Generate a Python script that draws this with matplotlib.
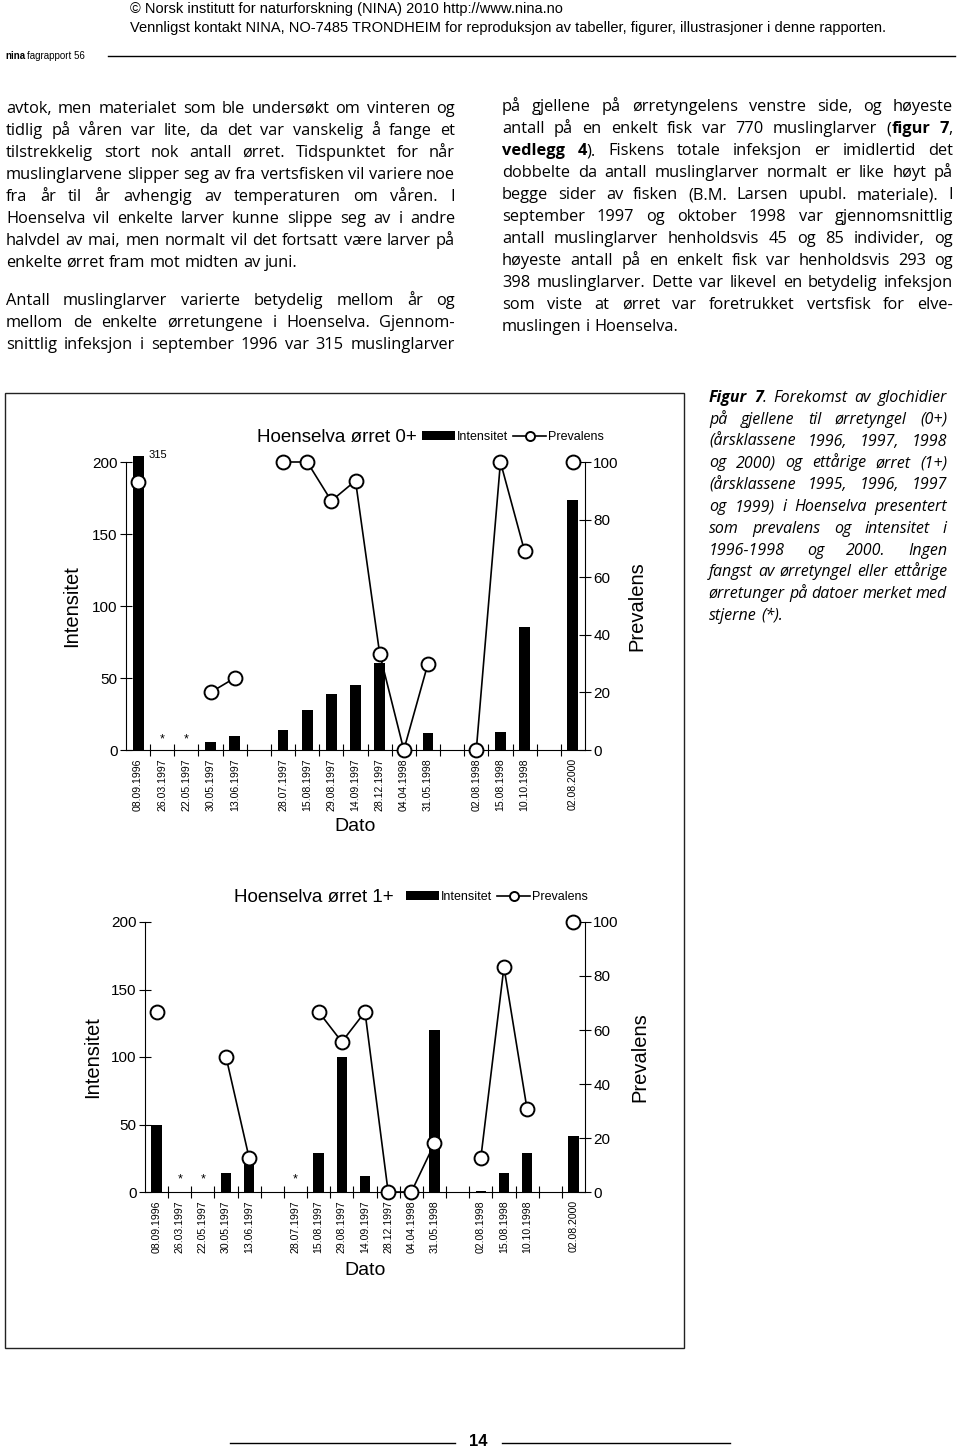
import numpy as np
import matplotlib
matplotlib.use('Agg')
import matplotlib.pyplot as plt
from matplotlib.patches import Rectangle

plt.rcParams['font.family'] = 'Liberation Sans'

# sampling dates (empty strings are the gaps between seasons)
dates = ['08.09.1996', '26.03.1997', '22.05.1997', '30.05.1997', '13.06.1997', '',
         '28.07.1997', '15.08.1997', '29.08.1997', '14.09.1997', '28.12.1997',
         '04.04.1998', '31.05.1998', '', '02.08.1998', '15.08.1998', '10.10.1998',
         '', '02.08.2000']

nan = np.nan
# orret 0+
intens_0 = np.array([315, nan, nan, 5.5, 10, nan, 14, 28, 39, 45, 60.5, 0, 12, nan,
                     0, 12.5, 85.5, nan, 173.5])
prev_0 = np.array([93, nan, nan, 20, 25, nan, 100, 100, 86.5, 93.5, 33.5, 0, 30, nan,
                   0, 100, 69, nan, 100])
no_catch_0 = ['26.03.1997', '22.05.1997']

# orret 1+
intens_1 = np.array([50, nan, nan, 14, 26, nan, nan, 29, 100, 11.5, 0, 0, 120, nan,
                     1, 14, 29, nan, 41.5])
prev_1 = np.array([66.7, nan, nan, 50, 12.5, nan, nan, 66.7, 55.6, 66.7, 0, 0, 18, nan,
                   12.5, 83.3, 30.6, nan, 100])
no_catch_1 = ['26.03.1997', '22.05.1997', '28.07.1997']

# page text, ^ toggles bold
left_col = [
    'avtok, men materialet som ble undersøkt om vinteren og',
    'tidlig på våren var lite, da det var vanskelig å fange et',
    'tilstrekkelig stort nok antall ørret. Tidspunktet for når',
    'muslinglarvene slipper seg av fra vertsfisken vil variere noe',
    'fra år til år avhengig av temperaturen om våren. I',
    'Hoenselva vil enkelte larver kunne slippe seg av i andre',
    'halvdel av mai, men normalt vil det fortsatt være larver på',
    'enkelte ørret fram mot midten av juni.',
    'Antall muslinglarver varierte betydelig mellom år og',
    'mellom de enkelte ørretungene i Hoenselva. Gjennom-',
    'snittlig infeksjon i september 1996 var 315 muslinglarver',
]
left_y = [108, 130, 152, 174, 196, 218, 240, 262, 300, 322, 344]
left_ragged = [7]

right_col = [
    'på gjellene på ørretyngelens venstre side, og høyeste',
    'antall på en enkelt fisk var 770 muslinglarver (^figur 7^,',
    '^vedlegg 4^). Fiskens totale infeksjon er imidlertid det',
    'dobbelte da antall muslinglarver normalt er like høyt på',
    'begge sider av fisken (B.M. Larsen upubl. materiale). I',
    'september 1997 og oktober 1998 var gjennomsnittlig',
    'antall muslinglarver henholdsvis 45 og 85 individer, og',
    'høyeste antall på en enkelt fisk var henholdsvis 293 og',
    '398 muslinglarver. Dette var likevel en betydelig infeksjon',
    'som viste at ørret var foretrukket vertsfisk for elve-',
    'muslingen i Hoenselva.',
]
right_ragged = [10]

caption = [
    '^Figur 7^. Forekomst av glochidier',
    'på gjellene til ørretyngel (0+)',
    '(årsklassene 1996, 1997, 1998',
    'og 2000) og ettårige ørret (1+)',
    '(årsklassene 1995, 1996, 1997',
    'og 1999) i Hoenselva presentert',
    'som prevalens og intensitet i',
    '1996-1998 og 2000. Ingen',
    'fangst av ørretyngel eller ettårige',
    'ørretunger på datoer merket med',
    'stjerne (*).',
]
caption_ragged = [10]

BODY = 'Open Sans'

fig = plt.figure(figsize=(9.6, 14.49), dpi=100)
page = fig.add_axes([0, 0, 1, 1])
page.set_xlim(0, 960)
page.set_ylim(1449, 0)
page.axis('off')
rend = fig.canvas.get_renderer()


def parse(line, bold):
    words = []
    for w in line.split(' '):
        segs = []
        for k, part in enumerate(w.split('^')):
            if k > 0:
                bold = not bold
            if part:
                segs.append((part, bold))
        words.append(segs)
    return words, bold


def put_line(line, x0, x1, yb, size, justify, style='normal'):
    words, _ = parse(line, False)
    items = []
    for segs in words:
        row = []
        for s, b in segs:
            t = page.text(x0, yb, s, fontsize=size, family=BODY, style=style,
                          fontweight='bold' if b else 'normal', va='baseline', ha='left')
            row.append((t, t.get_window_extent(rend).width))
        items.append(row)
    widths = [sum(w for _, w in row) for row in items]
    if justify and len(items) > 1:
        gap = (x1 - x0 - sum(widths)) / (len(items) - 1)
    else:
        gap = size * 100 / 72 * 0.26
    x = x0
    for row in items:
        for t, wt in row:
            t.set_x(x)
            x += wt
        x += gap


# header
page.text(130, 9, '© Norsk institutt for naturforskning (NINA) 2010 http://www.nina.no',
          fontsize=10.5, va='center')
page.text(130, 28, 'Vennligst kontakt NINA, NO-7485 TRONDHEIM for reproduksjon av tabeller, '
          'figurer, illustrasjoner i denne rapporten.', fontsize=10.5, va='center')
t = page.text(5, 56, 'nina', fontsize=7, fontweight='bold', va='center')
w = t.get_window_extent(rend).width
page.text(5 + w + 2, 56, 'fagrapport 56', fontsize=7, va='center')
page.plot([108, 955], [56, 56], color='black', lw=1)

# body text
for i, line in enumerate(left_col):
    put_line(line, 6, 455, left_y[i] + 5, 11.8, i not in left_ragged)
for i, line in enumerate(right_col):
    put_line(line, 502, 953, 106 + 22 * i + 5, 11.8, i not in right_ragged)
for i, line in enumerate(caption):
    put_line(line, 709, 947, 397 + 21.8 * i + 5, 11.5, i not in caption_ragged, style='italic')

# frame around the figure
page.add_patch(Rectangle((5, 393), 679, 955, fill=False, edgecolor='#222222', lw=1))

# page number
page.plot([230, 455], [1443, 1443], color='black', lw=1)
page.plot([502, 730], [1443, 1443], color='black', lw=1)
page.text(478, 1442, '14', fontsize=12, fontweight='bold', ha='center', va='center')


def draw_chart(rect, intens, prev, no_catch, star_y, title, title_xy, leg_xy,
               ylab_x, prev_x, dato_y):
    ax = fig.add_axes(rect)
    x = np.arange(len(dates))
    h = np.nan_to_num(intens)
    bars = ax.bar(x, np.minimum(h, 204), width=0.45, color='black', clip_on=False)
    for i, v in enumerate(h):
        if v > 200:
            ax.text(x[i] + 0.42, 205, f'{v:.0f}', fontsize=8, ha='left', va='center')
    for d in no_catch:
        ax.text(dates.index(d), star_y, '*', ha='center', va='center', fontsize=9)
    ax.set_xlim(-0.5, len(dates) - 0.5)
    ax.set_ylim(0, 200)
    ax.set_yticks([0, 50, 100, 150, 200])
    ax.tick_params(axis='y', direction='inout', length=8, width=0.8, labelsize=11, pad=2)
    ax.set_xticks(x)
    ax.set_xticklabels(dates, rotation=90, fontsize=7.6)
    ax.tick_params(axis='x', which='major', length=0, pad=6)
    ax.set_xticks(np.arange(0.5, len(dates) - 1), minor=True)
    ax.tick_params(axis='x', which='minor', direction='inout', length=8, width=0.8)
    for s in ['top', 'right']:
        ax.spines[s].set_visible(False)
    for s in ['left', 'bottom']:
        ax.spines[s].set_linewidth(0.8)
    ax.set_ylabel('Intensitet', fontsize=14.5)
    ax.yaxis.label.set_va('center')
    ax.yaxis.set_label_coords(ylab_x, 0.5)
    ax.set_xlabel('Dato', fontsize=14)
    ax.xaxis.label.set_va('center')
    ax.xaxis.set_label_coords(0.5, dato_y)

    ax2 = ax.twinx()
    line, = ax2.plot(x, prev, '-o', color='black', mfc='white', mec='black', ms=10,
                     mew=1.4, lw=1.2, clip_on=False)
    ax2.set_ylim(0, 100)
    ax2.set_yticks(range(0, 101, 20))
    ax2.tick_params(direction='inout', length=8, width=0.8, labelsize=11, pad=2)
    for s in ['top', 'left', 'bottom']:
        ax2.spines[s].set_visible(False)
    ax2.spines['right'].set_linewidth(0.8)
    ax2.set_ylabel('Prevalens', fontsize=14.5)
    ax2.yaxis.label.set_va('center')
    ax2.yaxis.set_label_coords(prev_x, 0.5)

    page.text(title_xy[0], title_xy[1], title, fontsize=13.5, ha='center', va='center')
    ax2.legend([bars, line], ['Intensitet', 'Prevalens'], loc='center left',
               bbox_to_anchor=(leg_xy[0] / 960, 1 - leg_xy[1] / 1449),
               bbox_transform=fig.transFigure, frameon=False, borderpad=0,
               borderaxespad=0, ncol=2, fontsize=9, handlelength=2.6,
               handletextpad=0.2, columnspacing=0.4, markerscale=0.65)


draw_chart([126 / 960, 1 - 750 / 1449, 459 / 960, 288 / 1449], intens_0, prev_0,
           no_catch_0, 7, 'Hoenselva ørret 0+', (337, 437), (422, 437),
           -0.118, 1.113, -0.267)
draw_chart([145 / 960, 1 - 1192 / 1449, 440 / 960, 270 / 1449], intens_1, prev_1,
           no_catch_1, 9, 'Hoenselva ørret 1+', (314, 897), (406, 897),
           -0.120, 1.125, -0.289)

fig.savefig('out.png', dpi=100)
